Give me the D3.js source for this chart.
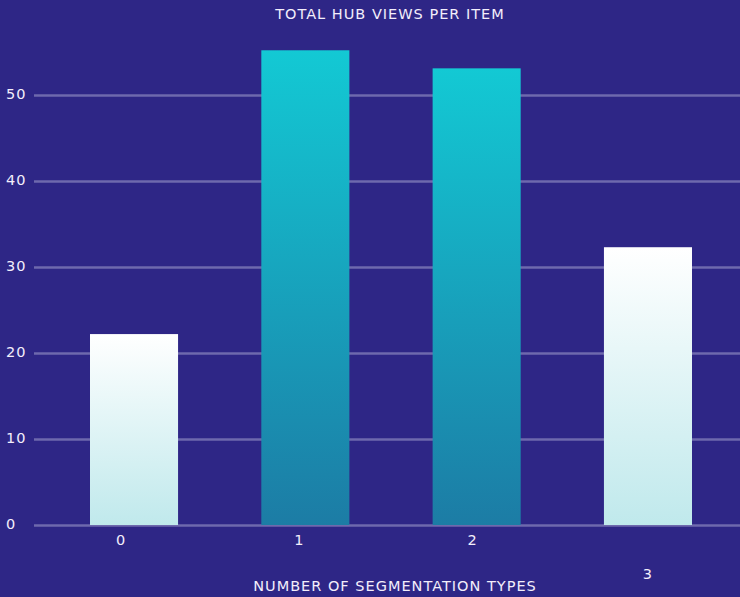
<!DOCTYPE html>
<html>
<head>
<meta charset="utf-8">
<script src="https://cdn.jsdelivr.net/npm/d3@7"></script>
<style>
  body { margin: 0; background: #2e2686; }
  svg text { font-family: "DejaVu Sans", "Noto Sans", sans-serif; fill: #f3eefb; letter-spacing: 1px; }
</style>
</head>
<body>
<svg width="740" height="597"></svg>
<script>
var categories = ["0", "1", "2", "3"];
var views = [22.2, 55.2, 53.1, 32.3];
var barStyle = ["light", "teal", "teal", "light"];
var yTicks = [0, 10, 20, 30, 40, 50];

let svg = d3.select("svg"),
    width = +svg.attr("width"),
    height = +svg.attr("height");

svg.append("rect").attr("width", width).attr("height", height).attr("fill", "#2e2686");

let defs = svg.append("defs");
let light = defs.append("linearGradient").attr("id", "light")
    .attr("x1", 0).attr("y1", 0).attr("x2", 0).attr("y2", 1);
light.append("stop").attr("offset", "0%").attr("stop-color", "#ffffff");
light.append("stop").attr("offset", "100%").attr("stop-color", "#c0e9ec");
let teal = defs.append("linearGradient").attr("id", "teal")
    .attr("x1", 0).attr("y1", 0).attr("x2", 0).attr("y2", 1);
teal.append("stop").attr("offset", "0%").attr("stop-color", "#13c9d4");
teal.append("stop").attr("offset", "100%").attr("stop-color", "#1c7ca5");

let x = d3.scaleBand().domain(categories).range([90, 692]).paddingInner(0.486).paddingOuter(0);
let y = d3.scaleLinear().domain([0, 50]).range([525, 95]);

// grid
let grid = svg.append("g")
    .attr("transform", "translate(34,0)")
    .call(d3.axisLeft(y).tickValues(yTicks).tickSize(-(width - 34)).tickFormat(""));
grid.select(".domain").remove();
grid.selectAll("line").attr("stroke", "#6e69ad").attr("stroke-width", 2.5);

// y labels
svg.append("g").selectAll("text")
    .data(yTicks)
    .enter().append("text")
    .attr("x", 6)
    .attr("y", d => y(d) + 4)
    .attr("font-size", 14.5)
    .text(d => d);

// bars
svg.append("g").selectAll("rect")
    .data(views)
    .enter().append("rect")
    .attr("x", (d, i) => x(categories[i]))
    .attr("y", d => y(d))
    .attr("width", x.bandwidth())
    .attr("height", d => y(0) - y(d))
    .attr("fill", (d, i) => "url(#" + barStyle[i] + ")");

// x tick labels (last one sits lower, as in the original)
let labelShift = [-13, -6, -4, 0];
let labelDrop = [0, 0, 0, 34];
svg.append("g").selectAll("text")
    .data(categories)
    .enter().append("text")
    .attr("x", (d, i) => x(d) + x.bandwidth() / 2 + labelShift[i])
    .attr("y", (d, i) => 545 + labelDrop[i])
    .attr("text-anchor", "middle")
    .attr("font-size", 14.5)
    .text(d => d);

svg.append("text")
    .attr("x", 390).attr("y", 19)
    .attr("text-anchor", "middle")
    .attr("font-size", 14.5)
    .text("TOTAL HUB VIEWS PER ITEM");

svg.append("text")
    .attr("x", 395).attr("y", 591)
    .attr("text-anchor", "middle")
    .attr("font-size", 14.5)
    .text("NUMBER OF SEGMENTATION TYPES");
</script>
</body>
</html>
